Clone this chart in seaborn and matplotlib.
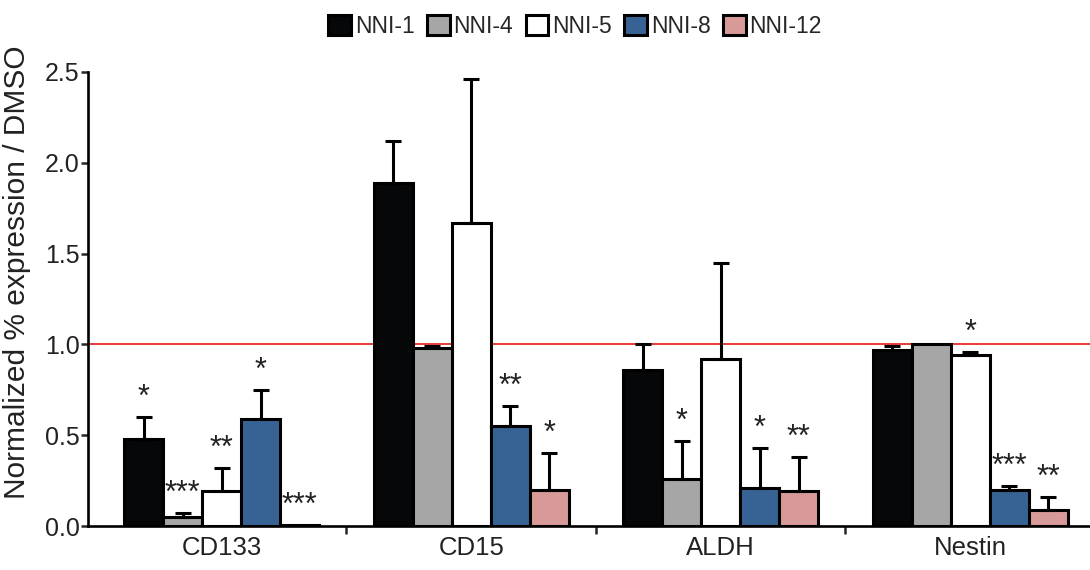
import numpy as np
import pandas as pd
import matplotlib
matplotlib.use("Agg")
import matplotlib.pyplot as plt
import seaborn as sns
from matplotlib.patches import Patch

sns.set_style("white")
plt.rcParams['font.family'] = ['Liberation Sans', 'DejaVu Sans']

markers = ["CD133", "CD15", "ALDH", "Nestin"]
compounds = ["NNI-1", "NNI-4", "NNI-5", "NNI-8", "NNI-12"]
colors = ["#060708", "#a6a6a6", "#ffffff", "#376394", "#d89a98"]

# mean values per compound, listed per marker (CD133, CD15, ALDH, Nestin)
nni1 = [0.48, 1.89, 0.86, 0.97]
nni4 = [0.05, 0.98, 0.26, 1.00]
nni5 = [0.19, 1.67, 0.92, 0.94]
nni8 = [0.59, 0.55, 0.21, 0.20]
nni12 = [0.005, 0.20, 0.19, 0.09]

# upper error (SD) sizes
err1 = [0.12, 0.23, 0.14, 0.02]
err4 = [0.02, 0.01, 0.21, 0.0]
err5 = [0.13, 0.79, 0.53, 0.02]
err8 = [0.16, 0.11, 0.22, 0.02]
err12 = [0.0, 0.20, 0.19, 0.07]

# significance
sig1 = ["*", "", "", ""]
sig4 = ["***", "", "*", ""]
sig5 = ["**", "", "", "*"]
sig8 = ["*", "**", "*", "***"]
sig12 = ["***", "*", "**", "**"]

vals = [nni1, nni4, nni5, nni8, nni12]
errs = [err1, err4, err5, err8, err12]
sigs = [sig1, sig4, sig5, sig8, sig12]

rows = []
for c, v in zip(compounds, vals):
    for m, y in zip(markers, v):
        rows.append({"marker": m, "compound": c, "value": y})
df = pd.DataFrame(rows)

fig = plt.figure(figsize=(10.9, 5.7), dpi=100)
ax = fig.add_axes([88/1090, 44/570, 1 - 88/1090, (526-72)/570])

sns.barplot(data=df, x="marker", y="value", hue="compound", order=markers,
            hue_order=compounds, palette=colors, width=0.78, dodge=True,
            errorbar=None, edgecolor="black", linewidth=2.2, saturation=1,
            legend=False, ax=ax)

ax.axhline(1.0, color="#ec2a2a", lw=1.3, zorder=0.5)

# error bars & stars using patch positions
patches = [p for p in ax.patches]
for hi, c in enumerate(compounds):
    for mi, m in enumerate(markers):
        p = patches[hi * len(markers) + mi]
        x = p.get_x() + p.get_width() / 2
        y = vals[hi][mi]
        e = errs[hi][mi]
        if e > 0:
            ax.errorbar([x], [y], yerr=[[0], [e]], fmt="none", ecolor="black",
                        elinewidth=2.2, capsize=5.5, capthick=2.2, zorder=1)
        s = sigs[hi][mi]
        if s:
            ax.annotate(s, (x, y + e), xytext=(0, 3), textcoords="offset points",
                        ha="center", va="bottom", fontsize=22, color="#222222")

ax.set_ylim(0, 2.5)
ax.set_xlim(-0.536, 3.48)
ax.set_yticks([0, 0.5, 1.0, 1.5, 2.0, 2.5])
ax.set_yticklabels(["0.0", "0.5", "1.0", "1.5", "2.0", "2.5"])
ax.tick_params(axis="y", labelsize=18, length=5, width=1.8, direction="out", left=True, pad=1,
               labelcolor="#222222")
ax.tick_params(axis="x", labelsize=18.5, length=0, pad=7, labelcolor="#222222")
ax.set_xticks([0, 1, 2, 3])
ax.set_xticks([0.5, 1.5, 2.5], minor=True)
ax.tick_params(axis="x", which="minor", length=6, width=1.8, bottom=True, direction="out")
ax.set_xlabel("")
ax.set_ylabel("Normalized % expression / DMSO", fontsize=21.5, color="#222222")
ax.yaxis.set_label_coords(-0.057, 0.56)
for sp in ["top", "right"]:
    ax.spines[sp].set_visible(False)
for sp in ["left", "bottom"]:
    ax.spines[sp].set_linewidth(1.9)
    ax.spines[sp].set_color("black")

handles = [Patch(facecolor=col, edgecolor="black", linewidth=2.2) for col in colors]
fig.legend(handles, compounds, loc="upper center", bbox_to_anchor=(575/1090, 1.0),
           ncol=5, frameon=False, fontsize=16.5, handlelength=1.0, handleheight=1.0,
           handletextpad=0.15, columnspacing=0.55, borderaxespad=0.25)

fig.savefig("out.png", dpi=100)
